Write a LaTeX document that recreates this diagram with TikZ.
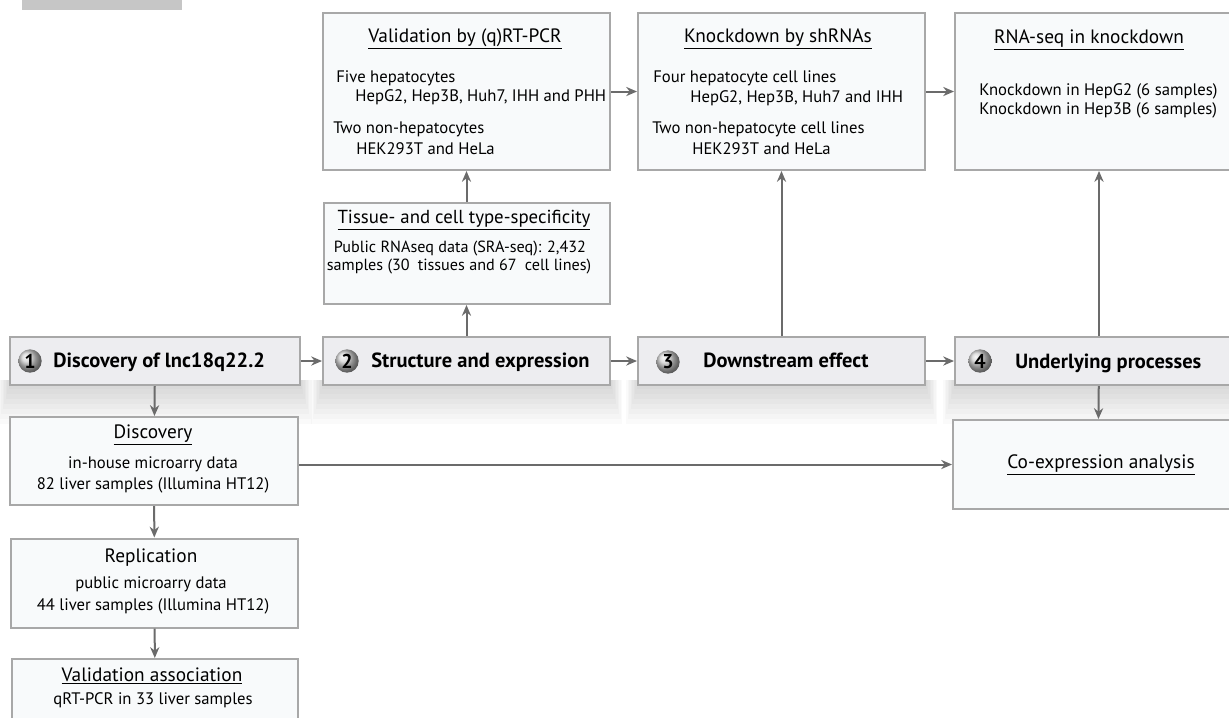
\documentclass[tikz,border=0pt]{standalone}
\usepackage{fontspec}
\setmainfont{PT Sans}
\usepackage{xcolor}
\usepackage{tikz}
\usetikzlibrary{positioning,calc,arrows.meta}

\definecolor{boxline}{HTML}{A8A8A8}
\definecolor{stagefill}{HTML}{EDEDF0}
\definecolor{detailfill}{HTML}{F8FAFB}
\definecolor{flowgray}{HTML}{6B6B6B}
\definecolor{tabgray}{HTML}{C6C6C6}

\newcommand{\pxu}{0.6pt}

\tikzset{
  stage/.style={draw=boxline, fill=stagefill, line width=1.2pt, rectangle, inner sep=0pt},
  detail/.style={draw=boxline, fill=detailfill, line width=1.2pt, rectangle, inner sep=0pt},
  flow/.style={draw=flowgray, line width=1.2pt, -{Stealth[length=6.5pt,width=5.5pt]}},
  stagenum/.style={circle, shading=ball, ball color=black!18, inner sep=0pt, minimum size=14pt,
    font=\bfseries\fontsize{12}{12}\selectfont},
  stagetxt/.style={anchor=base west, inner sep=0pt, font=\bfseries\fontsize{12.3}{13}\selectfont},
  boxtitle/.style={anchor=base, inner sep=0pt, font=\fontsize{11.6}{13}\selectfont},
  boxtxt/.style={anchor=base west, inner sep=0pt, font=\fontsize{10}{11.4}\selectfont},
  boxmid/.style={anchor=base, inner sep=0pt, font=\fontsize{10}{11.4}\selectfont},
}

\begin{document}
\begin{tikzpicture}[x=0.6pt, y=-0.6pt]
    \useasboundingbox (0,0) rectangle (1229,717);
    \clip (0,0) rectangle (1229,717);

    % grey tab in the corner
    \fill[tabgray] (22,-2) rectangle (182,10);

    % soft shadows under the four stages
    \foreach \a/\b in {10/300, 323/610, 638/925, 955/1243}
        \foreach \k in {1,...,8}
            \fill[black, opacity=0.02] (\a-1.5*\k,380) rectangle (\b+1.5*\k,384+5*\k);

    % top row
    \node[detail, minimum width=287*\pxu, minimum height=157*\pxu] (val) at (466.5,91.5) {};
    \node[detail, minimum width=287*\pxu, minimum height=157*\pxu] (kd) at (781.5,91.5) {};
    \node[detail, minimum width=288*\pxu, minimum height=157*\pxu] (rna) at (1099,91.5) {};
    \node[detail, minimum width=286*\pxu, minimum height=101*\pxu] (tis) at (466.5,253.5) {};

    \node[boxtitle] (valt) at (465,42) {\underline{Validation by (q)RT-PCR}};
    \node[boxtxt] (vala) at (336,82) {Five hepatocytes};
    \node[boxtxt] (valb) at (355,101) {HepG2, Hep3B, Huh7, IHH and PHH};
    \node[boxtxt] (valc) at (333,133) {Two non-hepatocytes};
    \node[boxtxt] (vald) at (356,154) {HEK293T and HeLa};

    \node[boxtitle] (kdt) at (778,42) {\underline{Knockdown by shRNAs}};
    \node[boxtxt] (kda) at (653,82) {Four hepatocyte cell lines};
    \node[boxtxt] (kdb) at (690,102) {HepG2, Hep3B, Huh7 and IHH};
    \node[boxtxt] (kdc) at (652,133) {Two non-hepatocyte cell lines};
    \node[boxtxt] (kdd) at (692,154) {HEK293T and HeLa};

    \node[boxtitle] (rnat) at (1089,43) {\underline{RNA-seq in knockdown}};
    \node[boxtxt] (rnaa) at (979,95) {Knockdown in HepG2 (6 samples)};
    \node[boxtxt] (rnab) at (979,114) {Knockdown in Hep3B (6 samples)};

    \node[boxtitle, font=\fontsize{11.3}{13}\selectfont] (tist) at (464,223) {\underline{Tissue- and cell type-specificity}};
    \node[boxmid, font=\fontsize{9.7}{11}\selectfont] (tisa) at (460,252) {Public RNAseq data (SRA-seq): 2,432};
    \node[boxmid, font=\fontsize{9.7}{11}\selectfont] (tisb) at (459,270) {samples (30\enspace tissues and 67\enspace cell lines)};

    % the four stages
    \node[stage, minimum width=290*\pxu, minimum height=48*\pxu] (m1) at (155,361) {};
    \node[stage, minimum width=287*\pxu, minimum height=48*\pxu] (m2) at (466.5,361) {};
    \node[stage, minimum width=287*\pxu, minimum height=48*\pxu] (m3) at (781.5,361) {};
    \node[stage, minimum width=288*\pxu, minimum height=48*\pxu] (m4) at (1099,361) {};

    \node[stagenum] (n1) at (30,361) {1};
    \node[stagetxt] (s1) at (53,367) {Discovery of lnc18q22.2};
    \node[stagenum] (n2) at (347,361) {2};
    \node[stagetxt] (s2) at (371,367) {Structure and expression};
    \node[stagenum] (n3) at (668,362) {3};
    \node[stagetxt] (s3) at (703,367) {Downstream effect};
    \node[stagenum] (n4) at (980,361) {4};
    \node[stagetxt] (s4) at (1015,368) {Underlying processes};

    % left column and co-expression
    \node[detail, minimum width=288*\pxu, minimum height=88*\pxu] (disc) at (154,461) {};
    \node[detail, minimum width=287*\pxu, minimum height=89*\pxu] (rep) at (154.5,583) {};
    \node[detail, minimum width=286*\pxu, minimum height=90*\pxu] (vas) at (155,704) {};
    \node[detail, minimum width=290*\pxu, minimum height=89*\pxu] (coex) at (1098,464.5) {};

    \node[boxtitle] (disct) at (153,438) {\underline{Discovery}};
    \node[boxmid] (disca) at (153,468) {in-house microarry data};
    \node[boxmid] (discb) at (153,489) {82 liver samples (Illumina HT12)};

    \node[boxtitle] (rept) at (151,562) {Replication};
    \node[boxmid] (repa) at (151,588) {public microarry data};
    \node[boxmid] (repb) at (153,610) {44 liver samples (Illumina HT12)};

    \node[boxtitle] (vast) at (152,681) {\underline{Validation association}};
    \node[boxmid] (vasa) at (153,704) {qRT-PCR in 33 liver samples};

    \node[boxtitle] (coext) at (1101,468) {\underline{Co-expression analysis}};

    % connectors
    \draw[flow] (m1) -- (m2);
    \draw[flow] (m2) -- (m3);
    \draw[flow] (m3) -- (m4);
    \draw[flow] (m2) -- (tis);
    \draw[flow] (tis) -- (val);
    \draw[flow] (m3) -- (kd);
    \draw[flow] (m4) -- (rna);
    \draw[flow] (val) -- (kd);
    \draw[flow] (kd) -- (rna);
    \draw[flow] (m4) -- (coex);
    \draw[flow] (m1) -- (disc);
    \draw[flow] (disc) -- (rep);
    \draw[flow] (rep) -- (vas);
    \draw[flow] (disc.east |- coex.west) -- (coex.west);
\end{tikzpicture}
\end{document}
